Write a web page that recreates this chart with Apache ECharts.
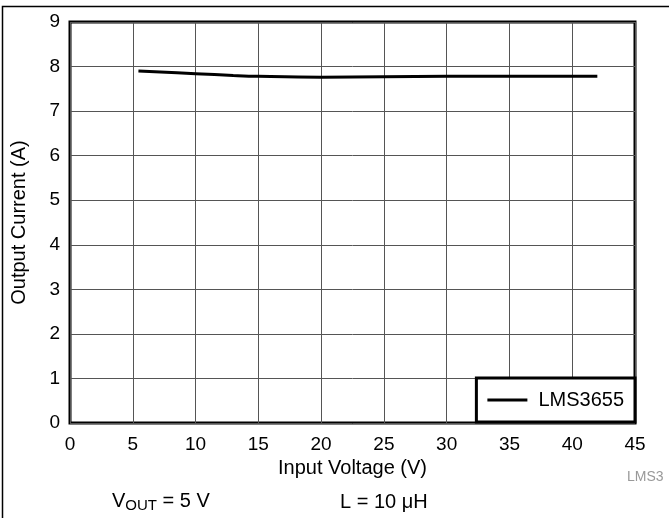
<!DOCTYPE html>
<html><head><meta charset="utf-8">
<script src="https://cdn.jsdelivr.net/npm/echarts@6/dist/echarts.min.js"></script>
<style>html,body{margin:0;padding:0;background:#fff}#c{width:669px;height:518px}</style>
</head><body><div id="c"></div>
<script>
const inputVoltage = [5.45, 10, 13, 15, 20, 25, 30, 35, 42];
const outputCurrent = [7.9, 7.84, 7.8, 7.78, 7.76, 7.77, 7.78, 7.78, 7.78];
const seriesName = 'LMS3655';
const xTicks = [0, 5, 10, 15, 20, 25, 30, 35, 40, 45];
const yTicks = [0, 1, 2, 3, 4, 5, 6, 7, 8, 9];

const F = 'Liberation Sans, Arial, sans-serif';
const chart = echarts.init(document.getElementById('c'), null, {renderer: 'canvas'});
chart.setOption({
  animation: false,
  backgroundColor: '#fff',
  grid: {left: 70, right: 34, top: 22, bottom: 95, show: true, borderColor: '#000', borderWidth: 3, backgroundColor: 'transparent'},
  xAxis: {
    type: 'value', min: xTicks[0], max: xTicks[xTicks.length - 1], interval: 5,
    name: 'Input Voltage (V)', nameLocation: 'middle', nameGap: 35,
    nameTextStyle: {fontFamily: F, fontSize: 20, color: '#000'},
    axisLine: {show: false}, axisTick: {show: false},
    axisLabel: {fontFamily: F, fontSize: 19, color: '#000', margin: 12},
    splitLine: {show: true, lineStyle: {color: '#555', width: 1}}
  },
  yAxis: {
    type: 'value', min: yTicks[0], max: yTicks[yTicks.length - 1], interval: 1,
    name: 'Output Current (A)', nameLocation: 'middle', nameGap: 41,
    nameTextStyle: {fontFamily: F, fontSize: 20, color: '#000'},
    axisLine: {show: false}, axisTick: {show: false},
    axisLabel: {fontFamily: F, fontSize: 19, color: '#000', margin: 10},
    splitLine: {show: true, lineStyle: {color: '#555', width: 1}}
  },
  legend: {
    right: 34, bottom: 96, orient: 'vertical',
    backgroundColor: '#fff', borderColor: '#000', borderWidth: 3,
    padding: [12, 11, 12, 11], itemWidth: 40, itemHeight: 10, itemGap: 10,
    textStyle: {fontFamily: F, fontSize: 20, color: '#000', padding: [0, 0, 0, 6]},
    data: [{name: seriesName, icon: 'path://M0,0 L40,0 L40,3 L0,3 Z'}]
  },
  series: [{
    name: seriesName, type: 'line', smooth: 0.4, symbol: 'none',
    data: inputVoltage.map((v, i) => [v, outputCurrent[i]]),
    lineStyle: {color: '#000', width: 3}, itemStyle: {color: '#000'}
  }],
  graphic: [
    {type: 'polyline', shape: {points: [[2.5, 518], [2.5, 6.5], [669, 6.5]]}, style: {stroke: '#000', lineWidth: 1.5, fill: null}},
    {type: 'text', left: 627, top: 470, style: {text: 'LMS3', font: '14px ' + F, fill: '#999'}},
    {type: 'text', left: 112, top: 491, style: {rich: {a: {fontFamily: F, fontSize: 20, fill: '#000'}, s: {fontFamily: F, fontSize: 15, fill: '#000', padding: [9, 0, 0, 0]}}, text: '{a|V}{s|OUT}{a| = 5 V}'}},
    {type: 'text', left: 340, top: 492, style: {text: 'L = 10 μH', font: '20px ' + F, fill: '#000'}}
  ]
});
</script></body></html>
